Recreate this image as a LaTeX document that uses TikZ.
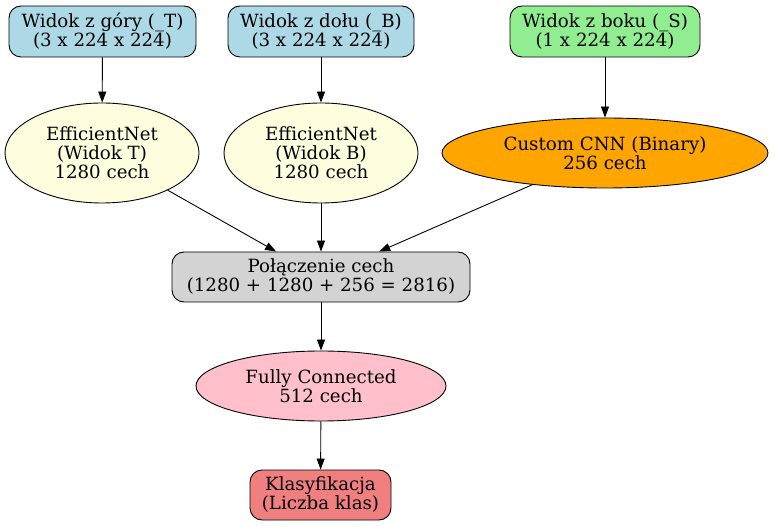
\documentclass[tikz,border=0pt]{standalone}
\usepackage{fontspec}
\setmainfont{DejaVu Serif}
\usetikzlibrary{shapes.geometric,arrows.meta}
\definecolor{lightblue}{RGB}{173,216,230}
\definecolor{lightgreen}{RGB}{144,238,144}
\definecolor{lightyellow}{RGB}{255,255,224}
\definecolor{orangev1}{RGB}{255,165,0}
\definecolor{lightgrayv1}{RGB}{211,211,211}
\definecolor{pinkv1}{RGB}{255,192,203}
\definecolor{lightcoral}{RGB}{240,128,128}
\tikzset{
roundboxv1/.style={rectangle, rounded corners=12pt, draw=black!100, line width=0.9pt, align=center, inner sep=0pt, minimum height=51pt, font=\fontsize{18.2}{19}\selectfont},
ellipsenodev1/.style={ellipse, draw=black!100, line width=0.9pt, align=center, inner sep=0pt, font=\fontsize{18.2}{19}\selectfont},
arrowv1/.style={-{Triangle[length=11pt,width=8pt]}, line width=0.9pt, black},
}
\begin{document}
\begin{tikzpicture}[x=1pt,y=-1pt]
    \useasboundingbox (0,0) rectangle (774,526);
    \node[roundboxv1, fill=lightblue, minimum width=187pt] at (102.5,31.5) (inT) {Widok z góry (\_T)\\(3 x 224 x 224)};
    \node[roundboxv1, fill=lightblue, minimum width=186pt] at (321,31.5) (inB) {Widok z dołu (\_B)\\(3 x 224 x 224)};
    \node[roundboxv1, fill=lightgreen, minimum width=190pt] at (605,31.5) (inS) {Widok z boku (\_S)\\(1 x 224 x 224)};
    \node[ellipsenodev1, fill=lightyellow, minimum width=194pt, minimum height=100pt] at (102,153) (effT) {EfficientNet\\(Widok T)\\1280 cech};
    \node[ellipsenodev1, fill=lightyellow, minimum width=194pt, minimum height=100pt] at (321,153) (effB) {EfficientNet\\(Widok B)\\1280 cech};
    \node[ellipsenodev1, fill=orangev1, minimum width=326pt, minimum height=70pt] at (605,153) (cnnS) {Custom CNN (Binary)\\256 cech};
    \node[roundboxv1, fill=lightgrayv1, minimum width=298pt, minimum height=50pt] at (321,277) (concat) {Połączenie cech\\(1280 + 1280 + 256 = 2816)};
    \node[ellipsenodev1, fill=pinkv1, minimum width=250pt, minimum height=70pt] at (321,386) (fc) {Fully Connected\\512 cech};
    \node[roundboxv1, fill=lightcoral, minimum width=141pt, minimum height=50pt] at (320.5,495) (cls) {Klasyfikacja\\(Liczba klas)};
    \draw[arrowv1] (inT)--(effT);
    \draw[arrowv1] (inB)--(effB);
    \draw[arrowv1] (inS)--(cnnS);
    \draw[arrowv1] (effT)--(concat);
    \draw[arrowv1] (effB)--(concat);
    \draw[arrowv1] (cnnS)--(concat);
    \draw[arrowv1] (concat)--(fc);
    \draw[arrowv1] (fc)--(cls);
\end{tikzpicture}
\end{document}
